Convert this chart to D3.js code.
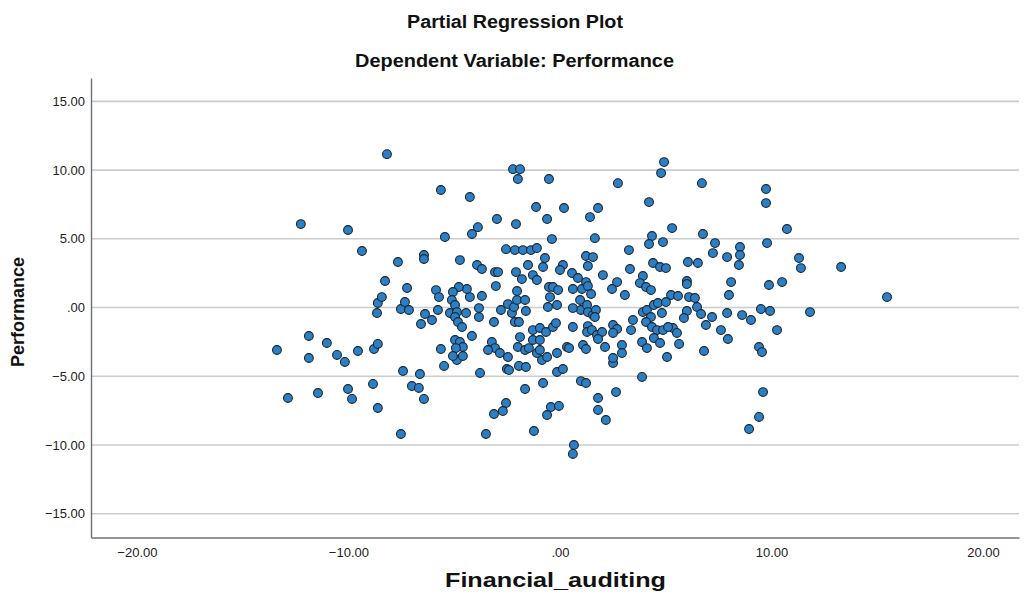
<!DOCTYPE html>
<html>
<head>
<meta charset="utf-8">
<script src="https://cdn.jsdelivr.net/npm/d3@7"></script>
<style>
  html, body { margin: 0; padding: 0; background: #ffffff; }
  svg { display: block; font-family: Arial, "Liberation Sans", sans-serif; }
</style>
</head>
<body>
<svg id="chart" width="1024" height="601"></svg>
<script>
// Partial regression residuals: Financial_auditing (x) vs Performance (y)
const xValues = [
  -13.38,-12.86,-12.25,-11.87,-11.87,-11.44,-11.02,-10.54,-10.17,-9.55,
  -10.02,-9.83,-10.02,-9.36,-8.84,-8.79,-8.61,-8.61,-8.65,-8.61,
  -8.42,-8.27,-8.18,-7.66,-7.52,-7.42,-7.52,-7.33,-7.14,-7.23,
  -7.00,-6.67,-6.62,-6.43,-6.57,-6.38,-6.05,-5.77,-5.63,-5.48,
  -5.63,-5.44,-6.43,-6.43,-5.86,-5.72,
  -2.22,-1.89,-1.99,-0.52,-4.26,-1.13,-0.61,-2.98,-2.08,-3.88,
  -4.16,-0.38,-2.55,-2.13,-1.75,-1.37,-1.09,
  4.92,4.78,2.74,0.19,4.21,1.80,1.42,1.65,4.35,5.30,4.21,4.87,3.26,
  6.71,9.74,9.74,10.73,6.76,9.79,7.33,8.51,7.23,7.90,8.51,11.30,11.39,
  6.05,6.52,8.46,13.29,6.00,6.00,8.09,9.88,10.50,7.99,6.10,6.38,15.46,
  6.48,6.00,5.86,6.67,7.19,7.90,8.61,9.03,9.50,9.93,11.82,6.90,7.61,
  10.26,7.94,5.63,6.81,9.41,9.55,9.60,9.41,8.94,
  -4.87,-3.78,-2.51,-2.41,-1.94,-1.61,-0.85,-0.14,-1.65,-0.80,-2.55,
  -2.70,-3.12,-0.43,-0.05,-0.61,-3.50,-1.23,
  2.51,0.14,3.88,0.99,1.23,2.65,1.80,1.80,2.17,0.66,0.61,
  -4.73,-3.92,-3.69,-3.07,-2.93,-2.08,-1.80,-1.28,-1.09,-1.51,-0.80,-0.71,
  -3.03,-3.69,-4.26,-4.40,-4.78,-5.06,-5.11,-4.96,-5.20,-4.87,-4.96,-4.82,
  -4.63,-4.44,-3.83,-3.83,-2.79,-2.46,-2.27,-2.17,-2.03,-2.03,-1.65,-1.61,
  -2.13,-1.94,-3.12,-4.16,-4.96,-4.73,-4.59,-4.92,-5.06,-4.59,-3.22,-3.07,
  -3.40,-2.84,-2.46,-1.89,-1.99,-1.65,-1.47,-1.28,-0.95,-1.28,-0.95,-0.66,
  -0.33,-0.19,-0.47,-0.52,-0.33,-0.09,-0.57,-0.14,-1.09,-0.61,-0.95,-0.14,
  1.23,1.56,1.32,0.14,0.00,0.57,0.85,1.23,0.61,1.04,1.32,1.47,2.03,2.70,
  2.46,3.07,3.31,3.92,3.78,4.07,4.30,4.40,4.73,5.01,5.25,5.58,0.95,0.99,
  1.28,1.32,1.56,1.70,1.65,0.61,3.92,4.11,4.30,4.07,3.45,4.44,4.63,5.01,
  4.82,5.34,0.61,1.32,1.28,1.51,1.75,1.99,1.80,2.51,2.70,2.51,3.36,4.35,
  4.59,4.87,5.11,0.33,0.43,1.09,1.23,2.13,2.93,2.93,2.51,3.88,4.11,4.44,
  4.73,5.06,5.53
];
const yValues = [
  -3.09,-6.58,6.07,-2.07,-3.67,-6.22,-2.58,-3.45,-3.96,-3.16,
  -5.93,-6.65,5.64,4.11,-5.56,-3.02,-2.65,-7.31,-0.40,0.33,
  0.76,1.93,11.16,3.31,-9.20,-4.62,-0.11,0.40,-0.18,1.42,
  -5.71,-5.85,-4.84,-6.65,-1.20,-0.47,-0.91,-0.18,-3.02,-4.25,
  8.55,5.13,3.82,3.53,1.27,0.76,
  10.07,10.07,9.35,9.35,8.04,7.31,6.44,6.44,6.07,5.85,
  5.35,4.98,4.25,4.18,4.18,4.18,4.33,
  10.58,9.78,9.05,7.24,7.67,7.24,6.58,5.05,5.20,5.78,4.62,4.76,4.18,
  9.05,8.62,7.60,5.71,5.35,4.69,4.69,4.40,3.96,3.67,3.82,3.60,2.87,
  3.31,3.24,3.09,2.95,1.93,1.71,1.85,1.64,1.85,0.91,0.76,0.69,0.76,
  0.04,-0.25,-0.76,-0.47,-0.69,-0.40,-0.55,-0.91,-0.11,-0.25,-0.33,-1.27,-1.64,
  -1.64,-2.29,-2.65,-3.16,-2.87,-3.24,-6.15,-7.96,-8.84,
  -3.82,-4.76,-4.47,-4.55,-4.25,-4.33,-3.82,-4.69,-5.93,-5.49,-6.95,
  -7.53,-7.75,-7.24,-7.16,-7.82,-9.20,-8.98,
  -4.04,-4.47,-5.05,-5.35,-5.49,-6.15,-6.58,-7.45,-8.18,-10.00,-10.65,
  3.45,3.09,2.80,2.58,2.58,2.58,2.07,2.36,2.00,3.09,2.95,3.60,
  1.56,0.84,0.76,1.35,1.49,1.13,0.55,0.18,-0.40,-0.33,-0.69,-1.05,
  -1.42,-0.40,-0.04,-0.69,-0.18,0.25,-0.40,0.04,0.55,1.20,0.55,-0.25,
  -1.05,-1.05,-1.05,-2.07,-2.36,-2.51,-2.87,-2.95,-3.53,-3.53,-2.51,-2.95,
  -3.09,-3.31,-3.60,-2.15,-2.87,-3.09,-2.95,-2.36,-2.36,-1.64,-1.49,-1.78,
  -1.42,-1.13,0.76,1.49,1.49,1.27,0.04,0.18,-3.31,-3.60,-3.09,-3.31,
  3.75,3.67,3.02,3.09,2.73,2.51,2.15,1.85,1.35,1.35,1.56,0.98,2.36,1.85,
  1.35,0.91,2.80,2.29,1.78,1.49,1.27,3.24,2.95,2.87,0.91,0.84,0.55,-0.18,
  0.18,-0.33,-0.55,-0.18,-0.69,-0.04,-0.33,-0.18,-0.69,-1.05,-0.91,0.18,0.33,0.40,
  -0.40,-1.49,-1.42,-1.35,-1.78,-1.64,-2.00,-1.78,-2.29,-1.27,-1.56,-1.85,-1.64,-1.42,
  -1.64,-1.64,-1.42,-2.87,-2.95,-2.73,-3.02,-2.87,-2.73,-3.31,-3.67,-2.51,-2.95,-2.22,
  -2.58,-3.60,-1.85
];
const xTicks = [-20, -10, 0, 10, 20];
const yTicks = [-15, -10, -5, 0, 5, 10, 15];
const chartTitle = "Partial Regression Plot";
const chartSubtitle = "Dependent Variable: Performance";
const xTitle = "Financial_auditing";
const yTitle = "Performance";

const points = xValues.map((x, i) => ({ x, y: yValues[i] }));

const svg = d3.select("#chart");
const plot = { left: 91, right: 1019, top: 78, bottom: 537.5 };

const x = d3.scaleLinear().domain([-22.17, 21.7]).range([plot.left, plot.right]);
const y = d3.scaleLinear().domain([-16.73, 16.7]).range([plot.bottom, plot.top]);

// SPSS-style number format: 15.00, .00, -5.00
const fmt = v => {
  const s = d3.format(".2f")(v);
  return s.replace(/^(-?)0\./, "$1.");
};

svg.append("rect").attr("width", 1024).attr("height", 601).attr("fill", "#ffffff");

// horizontal grid lines
svg.append("g")
  .selectAll("line")
  .data(yTicks)
  .join("line")
  .attr("x1", plot.left).attr("x2", plot.right)
  .attr("y1", d => y(d)).attr("y2", d => y(d))
  .attr("stroke", "#cccccc")
  .attr("stroke-width", 1.6);

// y axis
const yAxis = svg.append("g")
  .attr("transform", `translate(${plot.left},0)`)
  .call(d3.axisLeft(y).tickValues(yTicks).tickFormat(fmt).tickSize(0).tickPadding(6));
yAxis.select(".domain").attr("stroke", "#707070").attr("stroke-width", 1.4);
yAxis.selectAll("text").attr("font-size", 13).attr("fill", "#222").attr("font-family", "Arial, 'Liberation Sans', sans-serif");

// x axis
const xAxis = svg.append("g")
  .attr("transform", `translate(0,${plot.bottom})`)
  .call(d3.axisBottom(x).tickValues(xTicks).tickFormat(fmt).tickSize(0).tickPadding(10));
xAxis.select(".domain").attr("stroke", "#707070").attr("stroke-width", 1.4);
xAxis.selectAll("text").attr("font-size", 13).attr("fill", "#222").attr("font-family", "Arial, 'Liberation Sans', sans-serif");

// points
svg.append("g")
  .selectAll("circle")
  .data(points)
  .join("circle")
  .attr("cx", d => x(d.x))
  .attr("cy", d => y(d.y))
  .attr("r", 4.4)
  .attr("fill", "#2b80c5")
  .attr("stroke", "#1a2530")
  .attr("stroke-width", 1.1);

// titles
svg.append("text")
  .attr("x", 515).attr("y", 28)
  .attr("text-anchor", "middle")
  .attr("font-size", 18).attr("font-weight", "bold").attr("fill", "#111")
  .attr("textLength", 216).attr("lengthAdjust", "spacingAndGlyphs")
  .text(chartTitle);
svg.append("text")
  .attr("x", 514.5).attr("y", 67)
  .attr("text-anchor", "middle")
  .attr("font-size", 18).attr("font-weight", "bold").attr("fill", "#111")
  .attr("textLength", 319).attr("lengthAdjust", "spacingAndGlyphs")
  .text(chartSubtitle);
svg.append("text")
  .attr("x", 555.5).attr("y", 587)
  .attr("text-anchor", "middle")
  .attr("font-size", 19.5).attr("font-weight", "bold").attr("fill", "#111")
  .attr("textLength", 221).attr("lengthAdjust", "spacingAndGlyphs")
  .text(xTitle);
svg.append("text")
  .attr("transform", "translate(24,312) rotate(-90)")
  .attr("text-anchor", "middle")
  .attr("font-size", 18).attr("font-weight", "bold").attr("fill", "#111")
  .text(yTitle);
</script>
</body>
</html>
